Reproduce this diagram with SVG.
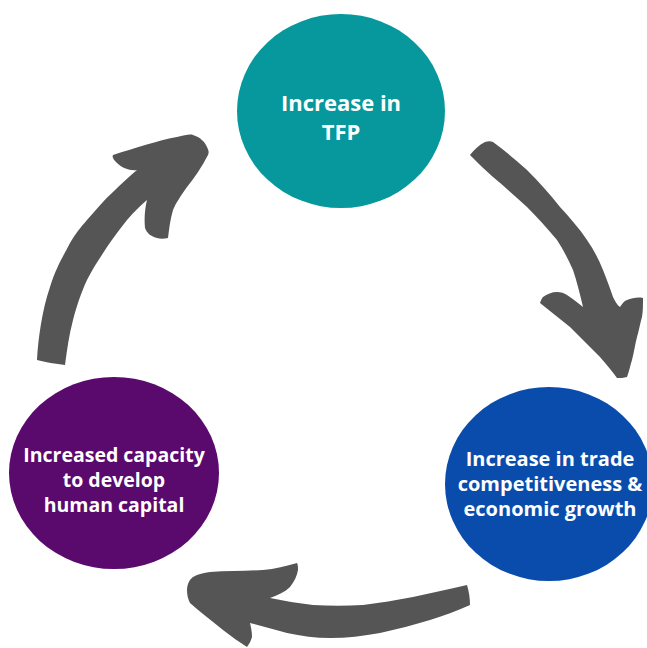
<svg xmlns="http://www.w3.org/2000/svg" width="647" height="648" viewBox="0 0 647 648">
<style>
.lbl{font-family:"Open Sans","Liberation Sans",sans-serif;font-weight:bold;font-size:19.5px;fill:#ffffff;text-anchor:middle}
.big{font-size:22px}
.mid{font-size:20px}
.arr{fill:#555555}
</style>
<rect width="647" height="648" fill="#ffffff"/>
<g id="connectors">
<path class="arr" d="M37,360 C38,340 42,310 50,287 C57,265 64,255 70,243 C76,233 80,228 87,220 C96,210 104,200 113,192 C121,184 130,176 137,170 C130,171 122,168 117,163 C113,159 112,157 113,155 C135,148 160,140 177,137 C185,135 190,134 193,135 C200,137 205,142 207,147 C209,151 209,153 208,155 C202,167 194,178 187,187 C180,197 176,203 173,210 C170,220 169,230 168,238 C164,239 160,239 157,238 C150,236 147,233 145,228 C144,218 145,208 147,200 C140,206 134,212 127,220 C119,230 113,238 107,247 C100,258 93,268 87,280 C81,293 77,305 73,320 C69,335 67,350 65,365 C56,364 45,362 37,360 Z"/>
<path class="arr" d="M470,155 C474,150 479,145 485,142 C488,141 491,141 493,142 C505,151 516,160 527,170 C539,182 550,194 560,207 C570,218 579,228 587,240 C594,250 599,260 603,270 C607,280 610,288 613,297 C615,301 617,305 620,307 C622,304 624,301 627,300 C632,298 638,297 643,298 C643,305 643,311 642,317 C640,324 639,330 637,337 C635,345 634,352 632,360 C630,366 629,372 627,377 C624,378 620,378 617,378 C612,371 606,364 600,357 C590,347 580,337 570,327 C560,319 550,311 540,303 C541,300 542,298 543,297 C547,294 552,292 557,292 C561,292 564,293 567,295 C573,299 578,303 583,307 C580,294 577,282 573,270 C568,259 563,249 557,240 C547,228 537,217 527,207 C516,197 505,187 493,177 C486,171 479,164 473,158 Z"/>
<path class="arr" d="M467,585 C450,589 431,593 413,597 C396,600 380,603 363,605 C346,606 330,606 313,605 C298,603 284,601 270,598 C278,595 285,592 290,587 C294,582 297,576 298,570 C298,567 298,565 297,563 C286,566 275,569 263,570 C246,571 228,571 210,572 C204,573 198,574 193,577 C189,580 187,585 187,590 C187,595 188,599 190,603 C200,612 212,621 223,630 C231,636 239,642 247,647 C249,644 251,641 252,637 C252,632 251,627 250,623 C262,626 275,630 287,633 C301,636 316,638 330,638 C347,638 363,636 380,633 C397,629 414,625 430,620 C443,616 457,611 470,605 C470,598 469,592 467,585 Z"/>
</g>
<g id="node-tfp">
<ellipse cx="341" cy="111" rx="104" ry="97" fill="#06989c"/>
<text class="lbl big" x="341" y="111">Increase in</text>
<text class="lbl big" x="341" y="140">TFP</text>
</g>
<g id="node-trade">
<ellipse cx="549" cy="484" rx="104" ry="97" fill="#0a4cab"/>
<text class="lbl mid" x="550" y="466">Increase in trade</text>
<text class="lbl mid" x="550" y="491">competitiveness &amp;</text>
<text class="lbl mid" x="550" y="516">economic growth</text>
</g>
<g id="node-human">
<ellipse cx="114" cy="473" rx="105" ry="96" fill="#5a096d"/>
<text class="lbl" x="114" y="462">Increased capacity</text>
<text class="lbl" x="114" y="487">to develop</text>
<text class="lbl" x="114" y="512">human capital</text>
</g>
</svg>
